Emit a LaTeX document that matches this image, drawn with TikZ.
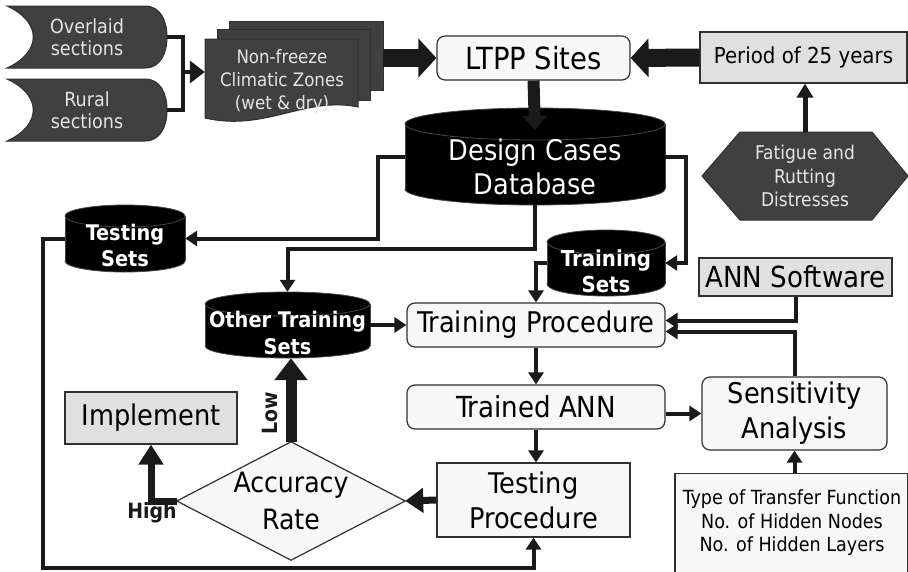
\documentclass[tikz,border=0pt]{standalone}
\usepackage{fontspec}
\setmainfont{DejaVu Sans Condensed}
\usetikzlibrary{arrows.meta,calc}

\definecolor{ink}{HTML}{1A1A1A}
\definecolor{darkfill}{HTML}{404040}
\definecolor{lightfill}{HTML}{F7F7F7}
\definecolor{grayfill}{HTML}{E0E0E0}
\definecolor{edge}{HTML}{303030}
\definecolor{paletext}{HTML}{E4E4E4}

\newcommand\fsz[2]{\fontsize{#1pt}{#2pt}\selectfont}

% database cylinder: name, cx, cy, width, height, ellipse y-radius, font, text
\newcommand\dbcyl[8]{%
  \pgfmathsetmacro\dbL{#2-#4/2}\pgfmathsetmacro\dbR{#2+#4/2}%
  \pgfmathsetmacro\dbT{#3-#5/2+#6}\pgfmathsetmacro\dbB{#3+#5/2-#6}%
  \pgfmathsetmacro\dbrx{#4/2}\pgfmathsetmacro\dbty{#3+0.65*#6}%
  \filldraw[dbshape] (#2,\dbB) ellipse [x radius=\dbrx, y radius=#6];
  \fill[black] (\dbL,\dbT) rectangle (\dbR,\dbB);
  \draw[dbedge] (\dbL,\dbT) -- (\dbL,\dbB) (\dbR,\dbT) -- (\dbR,\dbB);
  \filldraw[dbshape] (#2,\dbT) ellipse [x radius=\dbrx, y radius=#6];
  \node[minimum width=#4pt, minimum height=#5pt, inner sep=0pt] (#1) at (#2,#3) {};
  \node[text=white, align=center, inner sep=0pt, font=#7] at (#2,\dbty) {#8};
}

\begin{document}
\begin{tikzpicture}[x=1pt, y=-1pt,
  dbshape/.style={fill=black, draw=gray!55!black, line width=0.8pt},
  dbedge/.style={draw=gray!55!black, line width=0.8pt},
  darkshape/.style={fill=darkfill, draw=edge, line width=1pt},
  softtext/.style={text=paletext, align=center, inner sep=0pt},
  box/.style={draw=edge, line width=1.2pt, fill=lightfill, align=center, inner sep=0pt},
  rbox/.style={box, rounded corners=8pt},
  gbox/.style={box, fill=grayfill},
  line/.style={draw=ink, line width=4pt},
  conn/.style={line, -{Triangle[width=15pt,length=12pt]}},
  bigarrow/.style={draw=ink, line width=18pt, -{Triangle[width=38pt,length=18pt]}},
  tag/.style={font=\bfseries\fsz{21}{24}, text=ink, inner sep=0pt}
]
\useasboundingbox (0,0) rectangle (908,571);

% ---- source sections (stored-data shapes) ----
\path[darkshape] (7,6) -- (145,6) .. controls (160,6) and (167,20) .. (167,37)
  .. controls (167,54) and (160,68) .. (145,68) -- (7,68)
  .. controls (42,52) and (42,22) .. (7,6) -- cycle;
\node[softtext, font=\fsz{19.5}{22}, minimum width=160pt, minimum height=62pt] (ovl) at (87,37) {Overlaid\\sections};
\path[darkshape] (7,79) -- (145,79) .. controls (160,79) and (167,93) .. (167,110)
  .. controls (167,127) and (160,141) .. (145,141) -- (7,141)
  .. controls (42,125) and (42,95) .. (7,79) -- cycle;
\node[softtext, font=\fsz{19.5}{22}, minimum width=160pt, minimum height=62pt] (rur) at (87,110) {Rural\\sections};

% ---- climatic zones (stacked documents) ----
\path[darkshape] (229,21) rectangle (383,90);
\path[darkshape] (217,29) rectangle (370,100);
\path[darkshape] (205,39) -- (358,39) -- (358,107)
  .. controls (305,96) and (265,132) .. (205,118) -- cycle;
\node[minimum width=178pt, minimum height=102pt, inner sep=0pt] (nf) at (294,72) {};
\node[softtext, font=\fsz{18.5}{23}] at (282,81) {Non-freeze\\Climatic Zones\\(wet \& dry)};

\coordinate (join) at (183,72);
\draw[line] (ovl.east) -| (join);
\draw[line] (rur.east) -| (join);
\draw[line, -{Triangle[width=22pt,length=15pt]}] (join) -- (nf.west);

% ---- top row ----
\node[rbox, minimum width=193pt, minimum height=44pt, font=\fsz{30.5}{33}] (ltpp) at (533.5,58) {LTPP Sites};
\node[gbox, minimum width=207pt, minimum height=51pt, font=\fsz{22}{26}] (period) at (803.5,57.5) {Period of 25 years};

\draw[bigarrow] (nf.east |- ltpp.west) -- (ltpp.west);
\draw[bigarrow] (period.west) -- (ltpp.east);

% ---- distresses (hexagon) ----
\path[darkshape] (702,176) -- (740,132) -- (872,132) -- (908,176) -- (872,220) -- (740,220) -- cycle;
\node[softtext, minimum width=206pt, minimum height=88pt, font=\fsz{19}{23.5}] (fat) at (805,176) {Fatigue and\\Rutting\\Distresses};
\draw[draw=ink, line width=5pt, -{Triangle[width=16pt,length=14pt]}] (fat.north) -- (fat.north |- period.south);

% ---- databases ----
\dbcyl{dcd}{535}{156.5}{260}{97}{16}{\fsz{28.5}{34}}{Design Cases\\Database}
\dbcyl{tst}{125}{238.5}{120}{67}{11}{\bfseries\fsz{21.5}{26}}{Testing\\Sets}
\dbcyl{oth}{287.5}{325}{165}{66}{12}{\bfseries\fsz{21.5}{27}}{Other Training\\Sets}
\dbcyl{trs}{606}{263}{118}{66}{12}{\bfseries\fsz{22}{26}}{Training\\Sets}

\draw[draw=ink, line width=12pt, -{Triangle[width=24pt,length=14pt]}] (ltpp.south) -- ($(dcd.north)+(0,22)$);

% ---- training / testing chain ----
\node[rbox, minimum width=258pt, minimum height=44pt, font=\fsz{28.5}{31}] (trproc) at (536,325) {Training Procedure};
\node[gbox, minimum width=193pt, minimum height=38pt, font=\fsz{29}{31}] (annsw) at (795.5,277) {ANN Software};
\node[rbox, minimum width=258pt, minimum height=44pt, font=\fsz{29}{31}] (trann) at (536,407) {Trained ANN};
\node[rbox, minimum width=185pt, minimum height=73pt, font=\fsz{28.5}{35}] (sens) at (794.5,413.5) {Sensitivity\\Analysis};
\node[box, minimum width=193pt, minimum height=74pt, font=\fsz{28.5}{35}] (testproc) at (533.5,500) {Testing\\Procedure};
\node[box, minimum width=233pt, minimum height=104pt, anchor=north] (type) at (791.5,473) {};
\node[font=\fsz{19.5}{23.5}, align=center, inner sep=0pt] at (792,523) {Type of Transfer Function\\No. of Hidden Nodes\\No. of Hidden Layers};
\node[gbox, minimum width=172pt, minimum height=52pt, font=\fsz{28.5}{31}] (impl) at (151,418) {Implement};

% ---- decision ----
\node[minimum width=228pt, minimum height=118pt, inner sep=0pt] (acc) at (291,501) {};
\path[fill=lightfill, draw=edge, line width=1.2pt] (acc.west) -- (acc.north) -- (acc.east) -- (acc.south) -- cycle;
\node[font=\fsz{28}{37}, align=center, inner sep=0pt] at (291,501) {Accuracy\\Rate};

% ---- connectors ----
\draw[conn] (dcd.west) -- ++(-27,0) |- (tst.east);
\draw[conn] (dcd.south) -- ++(0,44) -| (oth.north);
\draw[conn] (dcd.east) -- ++(21,0) |- (trs.east);
\draw[conn] (trs.west) -| (trproc.north);
\draw[conn] (oth.east) -- (trproc.west);
\draw[conn] (annsw.south) |- ($(trproc.east)+(0,-4.5)$);
\draw[conn] (sens.north) |- ($(trproc.east)+(0,6.5)$);
\draw[conn] (trproc.south) -- (trann.north);
\draw[conn] (sens.west -| trann.east) -- (sens.west);
\draw[conn] (sens.south |- type.north) -- (sens.south);
\draw[conn] (trann.south) -- (trann.south |- testproc.north);
\draw[draw=ink, line width=7pt, -{Triangle[width=24pt,length=18pt]}] (testproc.west) -- (acc.east);
\draw[draw=ink, line width=11pt, -{Triangle[width=32pt,length=22pt]}] (acc.north) -- (acc.north |- oth.south);
\draw[draw=ink, line width=7pt, -{Triangle[width=24pt,length=20pt]}] (acc.west) -| (impl.south);
\coordinate (loopc) at (43,568);
\draw[conn] (tst.west) -| (loopc) -| (testproc.south);

% ---- branch labels ----
\node[tag] at (152,513) {High};
\node[tag, rotate=90] at (270,413) {Low};
\end{tikzpicture}
\end{document}
